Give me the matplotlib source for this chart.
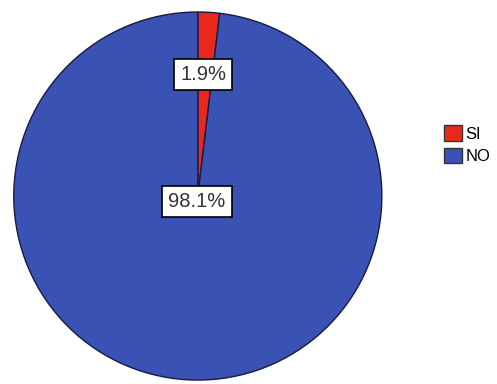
import matplotlib
matplotlib.use("Agg")
import matplotlib.pyplot as plt
from matplotlib.patches import Patch

labels = ["SI", "NO"]
values = [1.9, 98.1]
colors = ["#e8281c", "#3a52b4"]
pct_text = ["1.9%", "98.1%"]

plt.rcParams["font.family"] = ["Liberation Sans", "DejaVu Sans"]

fig = plt.figure(figsize=(4.97, 3.84), dpi=100)
ax = fig.add_axes([0.024, 0.005, 0.748, 0.969])

wedges, _ = ax.pie(values, colors=colors, startangle=90, counterclock=False,
                   wedgeprops=dict(edgecolor="#1a1a40", linewidth=1.0))
ax.set_aspect("equal")
ax.set_xlim(-1.01, 1.01)
ax.set_ylim(-1.01, 1.01)

box = dict(boxstyle="square,pad=0.3", facecolor="white", edgecolor="black", linewidth=1.2)
ax.text(0.03, 0.66, pct_text[0], ha="center", va="center", fontsize=14.5, color="#333333", bbox=box)
ax.text(-0.005, -0.03, pct_text[1], ha="center", va="center", fontsize=14.5, color="#333333", bbox=box)

handles = [Patch(facecolor=c, edgecolor="#333333", label=l) for c, l in zip(colors, labels)]
fig.legend(handles=handles, loc="center left", bbox_to_anchor=(0.893, 0.623), frameon=False,
           fontsize=12, handlelength=1.1, handleheight=1.05, handletextpad=0.2, labelspacing=0.35,
           borderpad=0, borderaxespad=0)

fig.savefig("out.png", dpi=100)
